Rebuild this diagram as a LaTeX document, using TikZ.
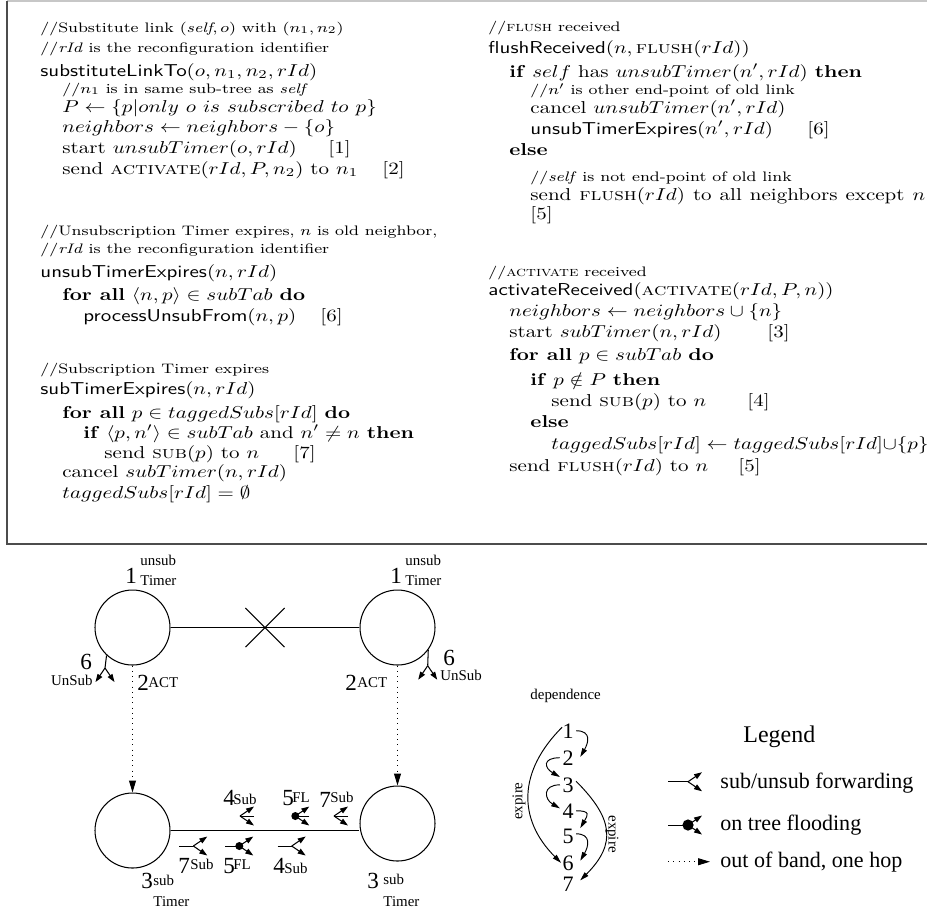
\documentclass[tikz,border=0pt]{standalone}
\usepackage{fontspec}
\usepackage{graphicx}
\usetikzlibrary{arrows.meta,shapes.misc}
\newfontfamily\tms{Liberation Serif}
% code lines are set slightly condensed in height
\newcommand{\sq}[1]{\scalebox{1}[0.82]{#1}}
\newcommand{\cmt}{\footnotesize}

\tikzset{
  code/.style={anchor=base west, inner sep=0pt},
  dig/.style={font=\tms\fontsize{11}{13}\selectfont, inner sep=0pt, anchor=base west},
  tag/.style={font=\tms\fontsize{7.1}{8.5}\selectfont, inner sep=0pt, anchor=base west},
  depnum/.style={font=\tms\fontsize{10.5}{12}\selectfont, inner sep=0pt, anchor=base},
  legtext/.style={font=\tms\fontsize{10.5}{12}\selectfont, inner sep=0pt, anchor=base west},
  site/.style={circle, draw, line width=0.5pt, minimum size=35.71pt, inner sep=0pt},
  link/.style={line width=0.5pt},
  tip/.style={-{Triangle[length=3.8pt,width=2.6pt]}},
  oob/.style={dotted, line width=0.5pt, -{Triangle[length=5.7pt,width=3.3pt]}},
  dep/.style={line width=0.45pt, -{Triangle[length=4.2pt,width=2.4pt]}},
  fan/.pic={
    \draw[link,tip] (0,0) -- (14,9.5);
    \draw[link,tip] (0,0) -- (14,-9.5);
  },
  fwd/.pic={
    \draw[link] (-14,0) -- (0,0);
    \pic {fan};
  },
  fld/.pic={
    \draw[link] (-14,0) -- (0,0);
    \pic {fan};
    \fill (0,0) circle (4);
  },
}

\begin{document}
\begin{tikzpicture}[x=0.47619pt,y=0.47619pt]
\useasboundingbox (0,0) rectangle (927,-909);

% ---------- frame around the pseudo-code ----------
\coordinate (ftl) at (7,-1);
\coordinate (ftr) at (940,-1);
\coordinate (fbl) at (7,-544);
\coordinate (fbr) at (940,-544);
\draw[line width=0.7pt, black!22] (ftl) -- (ftr);
\draw[line width=0.75pt, black!70] (ftl) -- (fbl) -- (fbr);

% ---------- left column ----------
\node[code] (l1)  at (40,-32)  {\sq{\cmt //Substitute link $(\textit{self}, o)$ with $(n_1, n_2)$}};
\node[code] (l2)  at (40,-52)  {\sq{\cmt //\textit{rId} is the reconfiguration identifier}};
\node[code] (l3)  at (40,-76)  {\sq{\textsf{substituteLinkTo}$(o, n_1, n_2, rId)$}};
\node[code] (l4)  at (62,-93)  {\sq{\cmt //$n_1$ is in same sub-tree as \textit{self}}};
\node[code] (l5)  at (62,-112) {\sq{$P \leftarrow \{p|only\ o\ is\ subscribed\ to\ p\}$}};
\node[code] (l6)  at (62,-132) {\sq{$neighbors \leftarrow neighbors - \{o\}$}};
\node[code] (l7)  at (62,-153) {\sq{start $unsubTimer(o, rId)$}};
\node[code] (l7b) at (328,-153) {\sq{[1]}};
\node[code] (l8)  at (62,-174) {\sq{send \textsc{activate}$(rId, P, n_2)$ to $n_1$}};
\node[code] (l8b) at (382,-174) {\sq{[2]}};

\node[code] (l9)  at (40,-235) {\sq{\cmt //Unsubscription Timer expires, $n$ is old neighbor,}};
\node[code] (l10) at (40,-253) {\sq{\cmt //\textit{rId} is the reconfiguration identifier}};
\node[code] (l11) at (40,-277) {\sq{\textsf{unsubTimerExpires}$(n, rId)$}};
\node[code] (l12) at (62,-300) {\sq{\textbf{for all} $\langle n, p\rangle \in subTab$ \textbf{do}}};
\node[code] (l13) at (83,-321) {\sq{\textsf{processUnsubFrom}$(n, p)$}};
\node[code] (l13b) at (320,-321) {\sq{[6]}};

\node[code] (l14) at (40,-373) {\sq{\cmt //Subscription Timer expires}};
\node[code] (l15) at (40,-394) {\sq{\textsf{subTimerExpires}$(n, rId)$}};
\node[code] (l16) at (62,-418) {\sq{\textbf{for all} $p \in taggedSubs[rId]$ \textbf{do}}};
\node[code] (l17) at (83,-438) {\sq{\textbf{if} $\langle p, n'\rangle \in subTab$ and $n' \neq n$ \textbf{then}}};
\node[code] (l18) at (104,-458) {\sq{send \textsc{sub}$(p)$ to $n$}};
\node[code] (l18b) at (293,-458) {\sq{[7]}};
\node[code] (l19) at (62,-477) {\sq{cancel $subTimer(n, rId)$}};
\node[code] (l20) at (62,-498) {\sq{$taggedSubs[rId] = \emptyset$}};

% ---------- right column ----------
\node[code] (r1)  at (488,-31)  {\sq{\cmt //\textsc{flush} received}};
\node[code] (r2)  at (488,-53)  {\sq{\textsf{flushReceived}$(n,{}$\textsc{flush}$(rId))$}};
\node[code] (r3)  at (509,-77)  {\sq{\textbf{if} $self$ has $unsubTimer(n', rId)$ \textbf{then}}};
\node[code] (r4)  at (530,-94)  {\sq{\cmt //$n'$ is other end-point of old link}};
\node[code] (r5)  at (530,-113) {\sq{cancel $unsubTimer(n', rId)$}};
\node[code] (r6)  at (530,-134) {\sq{\textsf{unsubTimerExpires}$(n', rId)$}};
\node[code] (r6b) at (807,-134) {\sq{[6]}};
\node[code] (r7)  at (509,-155) {\sq{\textbf{else}}};
\node[code] (r8)  at (530,-181) {\sq{\cmt //\textit{self} is not end-point of old link}};
\node[code] (r9)  at (530,-200) {\sq{\makebox[188pt][s]{send \textsc{flush}$(rId)$ to all neighbors except $n$}}};
\node[code] (r10) at (530,-219) {\sq{[5]}};

\node[code] (r11) at (488,-276) {\sq{\cmt //\textsc{activate} received}};
\node[code] (r12) at (488,-295) {\sq{\textsf{activateReceived}(\textsc{activate}$(rId, P, n))$}};
\node[code] (r13) at (509,-316) {\sq{$neighbors \leftarrow neighbors \cup \{n\}$}};
\node[code] (r14) at (509,-337) {\sq{start $subTimer(n, rId)$}};
\node[code] (r14b) at (767,-337) {\sq{[3]}};
\node[code] (r15) at (509,-360) {\sq{\textbf{for all} $p \in subTab$ \textbf{do}}};
\node[code] (r16) at (530,-385) {\sq{\textbf{if} $p \mathrel{\smash{\notin}} P$ \textbf{then}}};
\node[code] (r17) at (551,-406) {\sq{send \textsc{sub}$(p)$ to $n$}};
\node[code] (r17b) at (747,-406) {\sq{[4]}};
\node[code] (r18) at (530,-427) {\sq{\textbf{else}}};
\node[code] (r19) at (551,-449) {\sq{$taggedSubs[rId] \leftarrow taggedSubs[rId]{\cup}\{p\}$}};
\node[code] (r20) at (509,-471) {\sq{send \textsc{flush}$(rId)$ to $n$}};
\node[code] (r20b) at ([xshift=14pt]r20.base east) {\sq{[5]}};

% ---------- the four brokers ----------
\node[site] (A) at (132.5,-627.5) {};
\node[site] (B) at (397.5,-627.5) {};
\node[site] (C) at (132.5,-830.5) {};
\node[site] (D) at (397.5,-823.5) {};

% old link, cut
\draw[link] (A) -- (B);
\node[cross out, draw, line width=0.5pt, minimum size=18.1pt, inner sep=0pt] (cut) at (265,-627.5) {};

% new link
\draw[link] (C.east) -- (C.east -| D.west);

% activation messages, out of band
\draw[oob] (A.south) -- (C.north);
\draw[oob] (B.south) -- (D.north);

% unsubscriptions leaving the old end-points
\coordinate (ua) at (105,-668);
\coordinate (ub) at (427.7,-665.7);
\draw[link] (A.-133) -- (ua);
\draw[link] (B.-36) -- (ub);
\pic[rotate=-90] at (ua) {fan};
\pic[rotate=-90] at (ub) {fan};

% traffic on the new link
\pic[xscale=-1] at (240,-816) {fwd};
\pic[xscale=-1] at (295.3,-816) {fld};
\pic[xscale=-1] at (334,-816) {fwd};
\pic at (193.3,-846) {fwd};
\pic at (239.3,-846) {fld};
\pic at (291.7,-846) {fwd};

% labels of the brokers
\node[dig] (a1)  at (125,-583) {1};
\node[tag] (a1u) at (140,-565) {unsub};
\node[tag] (a1t) at (140,-585) {Timer};
\node[dig] (b1)  at (390,-583) {1};
\node[tag] (b1u) at (405,-565) {unsub};
\node[tag] (b1t) at (405,-585) {Timer};

\node[dig] (a6)  at (80,-669) {6};
\node[tag, anchor=base east] (a6u) at (93,-685) {UnSub};
\node[dig] (b6)  at (443,-665) {6};
\node[tag] (b6u) at (440,-680) {UnSub};

\node[dig] (a2)  at (137,-690) {2};
\node[tag] (a2a) at (148,-687) {ACT};
\node[dig] (b2)  at (345,-690) {2};
\node[tag] (b2a) at (357,-687) {ACT};

\node[dig] (u4)  at (223,-805) {4};
\node[tag] (u4s) at (233,-804) {Sub};
\node[dig] (u5)  at (282,-805) {5};
\node[tag] (u5s) at (292,-802) {FL};
\node[dig] (u7)  at (319,-807) {7};
\node[tag] (u7s) at (330,-802) {Sub};

\node[dig] (w7)  at (178,-873) {7};
\node[tag] (w7s) at (190,-869) {Sub};
\node[dig] (w5)  at (223,-873) {5};
\node[tag] (w5s) at (233,-869) {FL};
\node[dig] (w4)  at (273,-873) {4};
\node[tag] (w4s) at (284,-873) {Sub};

\node[dig] (c3)  at (141,-888) {3};
\node[tag] (c3s) at (153,-885) {sub};
\node[tag] (c3t) at (153,-906) {Timer};
\node[dig] (d3)  at (367,-888) {3};
\node[tag] (d3s) at (383,-884) {sub};
\node[tag] (d3t) at (383,-906) {Timer};

% ---------- dependence between the steps ----------
\node[tag] (deptitle) at (530,-699) {dependence};
\node[depnum] (d1) at (568,-738) {1};
\node[depnum] (d2) at (568,-765) {2};
\node[depnum] (d3n) at (568,-792) {3};
\node[depnum] (d4) at (568,-818) {4};
\node[depnum] (d5) at (568,-843) {5};
\node[depnum] (d6) at (568,-870) {6};
\node[depnum] (d7) at (568,-891) {7};

\draw[dep] ([xshift=1pt]d1.east) .. controls +(0:16) and +(60:16) .. ([xshift=3pt,yshift=-3.3pt]d2.north east);
\draw[dep] ([xshift=-1pt]d2.west) .. controls +(180:18) and +(150:18) .. ([xshift=-1pt]d3n.north west);
\draw[dep] ([xshift=-1pt]d3n.west) .. controls +(180:18) and +(150:18) .. ([xshift=-1pt,yshift=-2.5pt]d4.north west);
\draw[dep] ([xshift=1pt]d4.east) .. controls +(0:15) and +(60:15) .. ([xshift=3pt]d5.north east);
\draw[dep] ([xshift=1pt,yshift=1pt]d5.east) .. controls +(0:16) and +(60:16) .. ([xshift=3pt,yshift=1pt]d6.east);
\draw[dep] ([yshift=-2pt]d1.north west) .. controls +(225:62) and +(135:62) .. ([xshift=-0.5pt]d6.west);
\draw[dep] ([xshift=1pt,yshift=-2pt]d3n.north east) .. controls +(-45:52) and +(45:52) .. ([xshift=3pt,yshift=-2pt]d7.north east);
\node[tag, anchor=center, rotate=90] (exl) at (519,-801) {expire};
\node[tag, anchor=center, rotate=-90] (exr) at (612,-834) {expire};

% ---------- legend ----------
\node[legtext, font=\tms\fontsize{11.4}{13}\selectfont] (legend) at (743,-742) {Legend};
\pic[scale=1.4] at (688,-781.7) {fwd};
\node[legtext] (lg1) at (720,-788) {sub/unsub forwarding};
\pic[scale=1.4] at (688,-825) {fld};
\node[legtext] (lg2) at (720,-830) {on tree flooding};
\coordinate (o1) at (668,-861.7);
\coordinate (o2) at (710,-861.7);
\draw[oob] (o1) -- (o2);
\node[legtext] (lg3) at (720,-867) {out of band, one hop};
\end{tikzpicture}
\end{document}
